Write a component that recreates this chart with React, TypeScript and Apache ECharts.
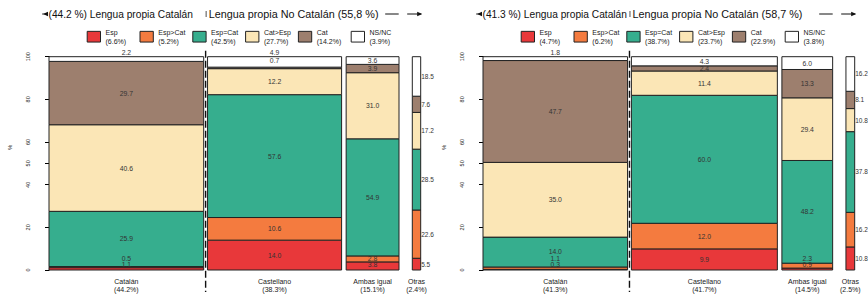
import React, { useEffect, useRef } from 'react';
import * as echarts from 'echarts';

const categories = ['Catalán', 'Castellano', 'Ambas igual', 'Otras'];
const responses = ['Esp', 'Esp>Cat', 'Esp=Cat', 'Cat>Esp', 'Cat', 'NS/NC'];
const yTicks = [0, 20, 40, 50, 60, 80, 100];

// Panel 1
const p1Widths = [44.2, 38.3, 15.1, 2.4];
const p1Legend = [6.6, 5.2, 42.5, 27.7, 14.2, 3.9];
const p1Catalan = [1.1, 0.5, 25.9, 40.6, 29.7, 2.2];
const p1Castellano = [14.0, 10.6, 57.6, 12.2, 0.7, 4.9];
const p1Ambas = [3.8, 2.8, 54.9, 31.0, 3.9, 3.6];
const p1Otras = [5.5, 22.6, 28.5, 17.2, 7.6, 18.5];
const p1TitleLeft = '(44.2 %) Lengua propia Catalán';
const p1TitleRight = 'Lengua propia No Catalán (55,8 %)';

// Panel 2
const p2Widths = [41.3, 41.7, 14.5, 2.5];
const p2Legend = [4.7, 6.2, 38.7, 23.7, 22.9, 3.8];
const p2Catalan = [0.3, 1.1, 14.0, 35.0, 47.7, 1.8];
const p2Castellano = [9.9, 12.0, 60.0, 11.4, 2.4, 4.3];
const p2Ambas = [0.9, 2.3, 48.2, 29.4, 13.3, 6.0];
const p2Otras = [10.8, 16.2, 37.8, 10.8, 8.1, 16.2];
const p2TitleLeft = '(41.3 %) Lengua propia Catalán';
const p2TitleRight = 'Lengua propia No Catalán (58,7 %)';

const colors = ['#E8383A', '#F47B3F', '#36AE8E', '#FBE6B6', '#9D7F6E', '#FFFFFF'];
const FONT = "'Liberation Sans', Arial, Helvetica, sans-serif";
const GAPS = [1.1, 1.3, 3.8];
const X_MAX = 106.5;
const PX_PER_UNIT = 3.5;
const PANEL_SHIFT = 434;
const GRID_LEFT = 49;
const GRID_TOP = 56.7;
const GRID_H = 213.3;

type Seg = { x0: number; x1: number; y0: number; y1: number; ly: number; text: string; side: boolean };

function layoutPanel(widths: number[], cols: number[][]) {
  const colInfo: { x0: number; x1: number; segs: Seg[] }[] = [];
  let x = 0;
  widths.forEach((w, k) => {
    const x0 = x;
    const x1 = x + w;
    x = x1 + (GAPS[k] || 0);
    const vals = cols[k];
    const total = vals.reduce((a, b) => a + b, 0);
    let cum = 0;
    const segs: Seg[] = [];
    const centers: number[] = [];
    vals.forEach((v) => {
      const y0 = (cum / total) * 100;
      cum += v;
      const y1 = (cum / total) * 100;
      centers.push((y0 + y1) / 2);
      segs.push({ x0, x1, y0, y1, ly: 0, text: v.toFixed(1), side: k === widths.length - 1 });
    });
    // simple overlap resolution for value labels
    const pos: number[] = [];
    centers.forEach((c, i) => {
      if (i === 0) pos.push(Math.max(c, 2.6));
      else pos.push(Math.max(c, pos[i - 1] + 3.0));
    });
    const last = pos.length - 1;
    if (pos[last] > centers[last] + 0.01) {
      pos[last - 1] = centers[last] + 0.5;
      pos[last] = 102.2;
    } else if (pos[last] > 98.6) {
      pos[last] = 102.2;
    }
    segs.forEach((s, i) => (s.ly = pos[i]));
    colInfo.push({ x0, x1, segs });
  });
  return colInfo;
}

const panels = [
  { widths: p1Widths, cols: [p1Catalan, p1Castellano, p1Ambas, p1Otras], legend: p1Legend, tl: p1TitleLeft, tr: p1TitleRight },
  { widths: p2Widths, cols: [p2Catalan, p2Castellano, p2Ambas, p2Otras], legend: p2Legend, tl: p2TitleLeft, tr: p2TitleRight },
];

function buildOption() {
  const grid: any[] = [];
  const xAxis: any[] = [];
  const yAxis: any[] = [];
  const series: any[] = [];
  const legend: any[] = [];

  panels.forEach((p, pi) => {
    const info = layoutPanel(p.widths, p.cols);
    grid.push({ left: GRID_LEFT + pi * PANEL_SHIFT, top: GRID_TOP, width: X_MAX * PX_PER_UNIT, height: GRID_H });
    xAxis.push({ gridIndex: pi, type: 'value', min: 0, max: X_MAX, show: false });
    yAxis.push({
      gridIndex: pi,
      type: 'value',
      min: 0,
      max: 100,
      offset: 9.7,
      axisLine: { show: true, lineStyle: { color: '#000', width: 1 } },
      axisTick: { show: true, length: 4, customValues: yTicks, lineStyle: { color: '#000', width: 1 } },
      axisLabel: { customValues: yTicks, rotate: 90, fontSize: 5.5, margin: 8, color: '#222', fontFamily: FONT },
      splitLine: { show: false },
    });

    responses.forEach((name, r) => {
      const segs = info.map((c) => c.segs[r]);
      series.push({
        type: 'custom',
        name,
        xAxisIndex: pi,
        yAxisIndex: pi,
        clip: false,
        z: 2,
        itemStyle: { color: colors[r], borderColor: '#222', borderWidth: 1 },
        data: segs.map((s) => [(s.x0 + s.x1) / 2, (s.y0 + s.y1) / 2]),
        renderItem: (params: any, api: any) => {
          const s = segs[params.dataIndex];
          const tl = api.coord([s.x0, s.y1]);
          const br = api.coord([s.x1, s.y0]);
          return {
            type: 'rect',
            shape: { x: tl[0], y: tl[1], width: br[0] - tl[0], height: br[1] - tl[1] },
            style: { fill: colors[r], stroke: '#222', lineWidth: 1 },
          };
        },
      });
    });

    const labels: Seg[] = [];
    info.forEach((c) => c.segs.forEach((s) => labels.push(s)));
    series.push({
      type: 'custom',
      name: 'labels' + pi,
      xAxisIndex: pi,
      yAxisIndex: pi,
      clip: false,
      silent: true,
      z: 3,
      data: labels.map((s) => [(s.x0 + s.x1) / 2, s.ly]),
      renderItem: (params: any, api: any) => {
        const s = labels[params.dataIndex];
        const pt = s.side ? api.coord([s.x1, s.ly]) : api.coord([(s.x0 + s.x1) / 2, s.ly]);
        return {
          type: 'text',
          x: s.side ? pt[0] + 0.5 : pt[0],
          y: pt[1],
          style: {
            text: s.text,
            fill: '#333',
            fontSize: s.side ? 6.5 : 6.8,
            fontFamily: FONT,
            align: s.side ? 'left' : 'center',
            verticalAlign: 'middle',
          },
        };
      },
    });

    series.push({
      type: 'custom',
      name: 'overlay' + pi,
      xAxisIndex: pi,
      yAxisIndex: pi,
      clip: false,
      silent: true,
      z: 4,
      data: [[0, 0]],
      renderItem: (params: any, api: any) => {
        const sepX = api.coord([(info[0].x1 + info[1].x0) / 2, 0])[0];
        const top = api.coord([0, 100])[1];
        const bottom = api.coord([0, 0])[1];
        const left = api.coord([0, 0])[0];
        const tip = api.coord([info[info.length - 1].x1, 0])[0] + 1.5;
        const ty = 14;
        const children: any[] = [
          { type: 'line', shape: { x1: sepX, y1: top - 6, x2: sepX, y2: bottom + 22 }, style: { stroke: '#111', lineWidth: 1.4, lineDash: [7, 3] } },
          { type: 'line', shape: { x1: sepX + 0.5, y1: 11, x2: sepX + 0.5, y2: 17 }, style: { stroke: '#222', lineWidth: 0.8 } },
          { type: 'text', x: left - 0.5, y: ty, style: { text: p.tl, fill: '#111', fontSize: 10.2, fontFamily: FONT, align: 'left', verticalAlign: 'middle' } },
          { type: 'text', x: sepX + 3, y: ty, style: { text: p.tr, fill: '#111', fontSize: 10.8, fontFamily: FONT, align: 'left', verticalAlign: 'middle' } },
          { type: 'line', shape: { x1: left - 7, y1: ty, x2: left - 2, y2: ty }, style: { stroke: '#111', lineWidth: 0.8 } },
          { type: 'polygon', shape: { points: [[left - 6, ty], [left - 1, ty - 2.3], [left - 1, ty + 2.3]] }, style: { fill: '#111' } },
          { type: 'line', shape: { x1: tip - 37, y1: ty, x2: tip - 23.5, y2: ty }, style: { stroke: '#111', lineWidth: 1 } },
          { type: 'line', shape: { x1: tip - 15, y1: ty, x2: tip - 1, y2: ty }, style: { stroke: '#111', lineWidth: 1 } },
          { type: 'polygon', shape: { points: [[tip, ty], [tip - 5, ty - 2.3], [tip - 5, ty + 2.3]] }, style: { fill: '#111' } },
          {
            type: 'text',
            x: left - 39,
            y: api.coord([0, 57.5])[1],
            rotation: Math.PI / 2,
            style: { text: '%', fill: '#222', fontSize: 6, fontFamily: FONT, align: 'center', verticalAlign: 'middle' },
          },
        ];
        info.forEach((c, k) => {
          const cx = api.coord([(c.x0 + c.x1) / 2, 0])[0];
          children.push({
            type: 'text',
            x: cx,
            y: bottom + 15.4,
            style: {
              text: `${categories[k]}\n(${p.widths[k].toFixed(1)}%)`,
              fill: '#222',
              fontSize: 7,
              lineHeight: 7.6,
              fontFamily: FONT,
              align: 'center',
              verticalAlign: 'middle',
            },
          });
        });
        return { type: 'group', children };
      },
    });

    legend.push({
      data: responses,
      left: 86.7 + pi * PANEL_SHIFT,
      top: 28,
      orient: 'horizontal',
      padding: 0,
      itemWidth: 13.3,
      itemHeight: 10.7,
      itemGap: 4,
      icon: 'rect',
      selectedMode: false,
      formatter: (n: string) => `${n}\n(${p.legend[responses.indexOf(n)].toFixed(1)}%)`,
      textStyle: { fontSize: 7, lineHeight: 8.7, color: '#222', fontFamily: FONT, width: 30 },
      itemStyle: { borderColor: '#222', borderWidth: 1 },
    });
  });

  return { animation: false, backgroundColor: '#fff', grid, xAxis, yAxis, series, legend };
}

export default function App() {
  const ref = useRef<HTMLDivElement>(null);
  useEffect(() => {
    if (!ref.current) return;
    const chart = echarts.init(ref.current, undefined, { renderer: 'svg' });
    chart.setOption(buildOption() as any);
    return () => chart.dispose();
  }, []);
  return <div ref={ref} style={{ position: 'absolute', left: 0, top: 0, width: 868, height: 294 }} />;
}
